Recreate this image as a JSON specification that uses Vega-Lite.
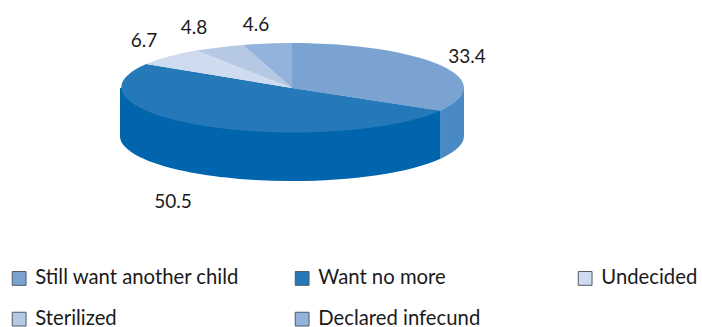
{
  "$schema": "https://vega.github.io/schema/vega-lite/v6.json",
  "autosize": {"type": "fit", "contains": "padding"},
  "width": 702,
  "height": 327,
  "padding": 0,
  "background": "white",
  "config": {"view": {"stroke": null}},
  "data": {
    "values": [
      {"slice": "Still want another child", "value": 33.4},
      {"slice": "Want no more", "value": 50.5},
      {"slice": "Undecided", "value": 6.7},
      {"slice": "Sterilized", "value": 4.8},
      {"slice": "Declared infecund", "value": 4.6}
    ]
  },
  "encoding": {
    "x": {"datum": 0, "type": "quantitative", "axis": null, "scale": {"domain": [-292, 410], "nice": false, "zero": false}},
    "y": {"datum": 0, "type": "quantitative", "axis": null, "scale": {"domain": [-239, 88], "nice": false, "zero": false}}
  },
  "layer": [
    {
      "transform": [{"filter": "datum.slice === 'Still want another child'"}],
      "mark": {"type": "point", "filled": true, "opacity": 1, "size": 4, "fill": "#4a8ac4",
        "shape": "M172,0L148.6,22.7L148.6,70.7A172,45 0 0 0 172,48Z"}
    },
    {
      "transform": [{"filter": "datum.slice === 'Want no more'"}],
      "mark": {"type": "point", "filled": true, "opacity": 1, "size": 4, "fill": "#0065ad",
        "shape": "M148.6,22.7L-172,0L-172,48A172,45 0 0 0 148.6,70.7Z"}
    },
    {
      "encoding": {
        "fill": {
          "field": "slice", "type": "nominal",
          "scale": {
            "domain": ["Still want another child", "Want no more", "Undecided", "Sterilized", "Declared infecund"],
            "range": ["#7ba3d2", "#2679b8", "#cfdcef", "#b5c9e5", "#93b2dc"]
          },
          "legend": {
            "title": null, "orient": "none", "legendX": 9, "legendY": 268, "direction": "horizontal",
            "columns": 3, "gridAlign": "all", "columnPadding": 52, "rowPadding": 20,
            "symbolType": "square", "symbolSize": 190, "symbolStrokeColor": "#4f5b66", "symbolStrokeWidth": 1,
            "labelFont": "Lato", "labelFontSize": 20.3, "labelColor": "#1a1a1a", "labelOffset": 6, "labelLimit": 300
          }
        }
      },
      "layer": [
        {
          "transform": [{"filter": "datum.slice === 'Still want another child'"}],
          "mark": {"type": "point", "filled": true, "opacity": 1, "size": 4, "shape": "M0,0L0,-45A172,45 0 0 1 148.6,22.7Z"}
        },
        {
          "transform": [{"filter": "datum.slice === 'Want no more'"}],
          "mark": {"type": "point", "filled": true, "opacity": 1, "size": 4, "shape": "M0,0L148.6,22.7A172,45 0 1 1 -145.8,-23.9Z"}
        },
        {
          "transform": [{"filter": "datum.slice === 'Undecided'"}],
          "mark": {"type": "point", "filled": true, "opacity": 1, "size": 4, "shape": "M0,0L-145.8,-23.9A172,45 0 0 1 -95.8,-37.4Z"}
        },
        {
          "transform": [{"filter": "datum.slice === 'Sterilized'"}],
          "mark": {"type": "point", "filled": true, "opacity": 1, "size": 4, "shape": "M0,0L-95.8,-37.4A172,45 0 0 1 -49,-43.1Z"}
        },
        {
          "transform": [{"filter": "datum.slice === 'Declared infecund'"}],
          "mark": {"type": "point", "filled": true, "opacity": 1, "size": 4, "shape": "M0,0L-49,-43.1A172,45 0 0 1 0,-45Z"}
        }
      ]
    },
    {
      "transform": [{"filter": "datum.slice === 'Still want another child'"}],
      "mark": {"type": "text", "font": "Lato", "fontSize": 19, "color": "#1a1a1a", "dx": 175, "dy": -31},
      "encoding": {"text": {"field": "value", "type": "quantitative", "format": ".1f"}}
    },
    {
      "transform": [{"filter": "datum.slice === 'Want no more'"}],
      "mark": {"type": "text", "font": "Lato", "fontSize": 19, "color": "#1a1a1a", "dx": -119, "dy": 114},
      "encoding": {"text": {"field": "value", "type": "quantitative", "format": ".1f"}}
    },
    {
      "transform": [{"filter": "datum.slice === 'Undecided'"}],
      "mark": {"type": "text", "font": "Lato", "fontSize": 19, "color": "#1a1a1a", "dx": -148, "dy": -47},
      "encoding": {"text": {"field": "value", "type": "quantitative", "format": ".1f"}}
    },
    {
      "transform": [{"filter": "datum.slice === 'Sterilized'"}],
      "mark": {"type": "text", "font": "Lato", "fontSize": 19, "color": "#1a1a1a", "dx": -98, "dy": -60},
      "encoding": {"text": {"field": "value", "type": "quantitative", "format": ".1f"}}
    },
    {
      "transform": [{"filter": "datum.slice === 'Declared infecund'"}],
      "mark": {"type": "text", "font": "Lato", "fontSize": 19, "color": "#1a1a1a", "dx": -36, "dy": -63},
      "encoding": {"text": {"field": "value", "type": "quantitative", "format": ".1f"}}
    }
  ]
}
